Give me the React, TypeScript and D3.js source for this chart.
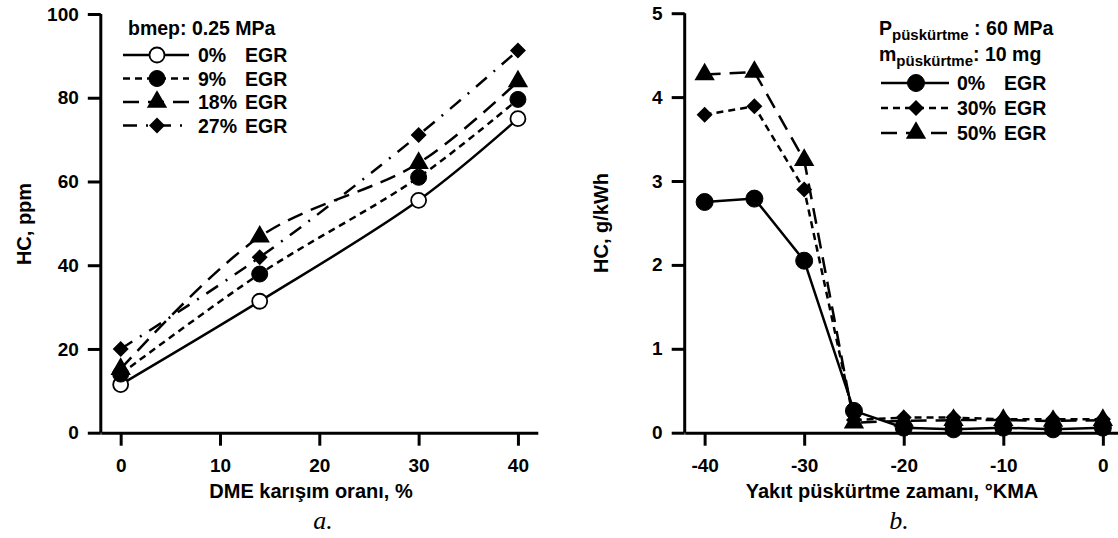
import React, { useEffect, useRef } from 'react';
import * as d3 from 'd3';

// panel a: HC vs DME blend ratio
const dmeRatio = [0, 14, 30, 40];
const hcEgr0 = [11.5, 31.4, 55.5, 75.0];
const hcEgr9 = [14.0, 37.9, 61.0, 79.6];
const hcEgr18 = [15.2, 46.8, 64.4, 83.9];
const hcEgr27 = [20.0, 41.9, 71.1, 91.3];
const ticksA_x = [0, 10, 20, 30, 40];
const ticksA_y = [0, 20, 40, 60, 80, 100];

// panel b: HC vs injection timing
const injTiming = [-40, -35, -30, -25, -20, -15, -10, -5, 0];
const hcB0 = [2.75, 2.79, 2.05, 0.26, 0.06, 0.04, 0.06, 0.04, 0.06];
const hcB30 = [3.79, 3.89, 2.9, 0.15, 0.18, 0.18, 0.16, 0.16, 0.16];
const hcB50 = [4.27, 4.3, 3.25, 0.12, 0.14, 0.15, 0.15, 0.14, 0.15];
const ticksB_x = [-40, -30, -20, -10, 0];
const ticksB_y = [0, 1, 2, 3, 4, 5];

const FONT = "'Liberation Sans', Arial, sans-serif";
const DASH = { solid: null, short: '7,5', long: '16,9', dashdot: '14,9,2,9' };

const drawMarker = (g, kind, x, y, size) => {
  if (kind === 'circle' || kind === 'open') {
    g.append('circle')
      .attr('cx', x).attr('cy', y).attr('r', size / 2)
      .attr('fill', kind === 'open' ? 'white' : 'black')
      .attr('stroke', 'black').attr('stroke-width', kind === 'open' ? 1.8 : 1);
  } else if (kind === 'triangle') {
    g.append('path')
      .attr('d', d3.symbol().type(d3.symbolTriangle).size(size * size * 0.62)())
      .attr('transform', `translate(${x},${y})`)
      .attr('fill', 'black');
  } else {
    g.append('path')
      .attr('d', d3.symbol().type(d3.symbolSquare).size(size * size * 0.5)())
      .attr('transform', `translate(${x},${y}) rotate(45)`)
      .attr('fill', 'black');
  }
};

const drawPanel = (svg, cfg) => {
  const { x, y, xTicks, yTicks, series, curve } = cfg;
  const g = svg.append('g');

  const yAxis = g.append('g')
    .attr('transform', `translate(${x.range()[0]},0)`)
    .call(d3.axisLeft(y).tickValues(yTicks).tickFormat(d => String(d))
      .tickSize(13).tickSizeOuter(0).tickPadding(9));
  const xAxis = g.append('g')
    .attr('transform', `translate(0,${y(0)})`)
    .call(d3.axisBottom(x).tickValues(xTicks).tickFormat(d => String(d))
      .tickSize(13).tickSizeOuter(0).tickPadding(13));

  [yAxis, xAxis].forEach(a => {
    a.selectAll('path, line').attr('stroke', 'black').attr('stroke-width', 3);
    a.selectAll('text')
      .attr('fill', 'black')
      .style('font-family', FONT)
      .style('font-weight', 'bold')
      .style('font-size', '19px');
  });
  yAxis.select('.domain').attr('d', `M0,${y.range()[0]}V${y.range()[1]}`);

  series.forEach(s => {
    const line = d3.line()
      .x((d, i) => x(s.xs[i]))
      .y(d => y(d))
      .curve(curve);
    g.append('path')
      .attr('d', line(s.ys))
      .attr('fill', 'none')
      .attr('stroke', 'black')
      .attr('stroke-width', 2.5)
      .attr('stroke-dasharray', DASH[s.dash]);
    s.ys.forEach((v, i) => drawMarker(g, s.marker, x(s.xs[i]), y(v), s.size));
  });
  return g;
};

const drawLegend = (svg, entries, opt) => {
  const g = svg.append('g');
  entries.forEach((e, i) => {
    const cy = opt.y0 + i * opt.dy;
    g.append('line')
      .attr('x1', opt.x1).attr('x2', opt.x2).attr('y1', cy).attr('y2', cy)
      .attr('stroke', 'black').attr('stroke-width', 2.5)
      .attr('stroke-dasharray', DASH[e.dash]);
    drawMarker(g, e.marker, opt.xm, cy, e.size);
    g.append('text').attr('x', opt.xt1).attr('y', cy + 7).text(e.pct);
    g.append('text').attr('x', opt.xt2).attr('y', cy + 7).text('EGR');
  });
  g.selectAll('text')
    .style('font-family', FONT).style('font-weight', 'bold').style('font-size', '19.5px');
};

const App = () => {
  const ref = useRef(null);

  useEffect(() => {
    const svg = d3.select(ref.current);
    svg.selectAll('*').remove();

    // ---- panel a ----
    const xA = d3.scaleLinear().domain([-2, 42]).range([100.8, 537.8]);
    const yA = d3.scaleLinear().domain([0, 100]).range([432.7, 14]);
    const seriesA = [
      { xs: dmeRatio, ys: hcEgr0, dash: 'solid', marker: 'open', size: 15, pct: '0%' },
      { xs: dmeRatio, ys: hcEgr9, dash: 'short', marker: 'circle', size: 16, pct: '9%' },
      { xs: dmeRatio, ys: hcEgr18, dash: 'long', marker: 'triangle', size: 17, pct: '18%' },
      { xs: dmeRatio, ys: hcEgr27, dash: 'dashdot', marker: 'diamond', size: 16, pct: '27%' },
    ];
    drawPanel(svg, { x: xA, y: yA, xTicks: ticksA_x, yTicks: ticksA_y, series: seriesA, curve: d3.curveCatmullRom });

    // ---- panel b ----
    const xB = d3.scaleLinear().domain([-42, 1.5]).range([684.7, 1117.8]);
    const yB = d3.scaleLinear().domain([0, 5]).range([432.7, 13.2]);
    const seriesB = [
      { xs: injTiming, ys: hcB0, dash: 'solid', marker: 'circle', size: 17, pct: '0%' },
      { xs: injTiming, ys: hcB30, dash: 'short', marker: 'diamond', size: 16, pct: '30%' },
      { xs: injTiming, ys: hcB50, dash: 'long', marker: 'triangle', size: 17, pct: '50%' },
    ];
    drawPanel(svg, { x: xB, y: yB, xTicks: ticksB_x, yTicks: ticksB_y, series: seriesB, curve: d3.curveLinear });

    // legends
    svg.append('text').attr('x', 128).attr('y', 35).text('bmep: 0.25 MPa')
      .style('font-family', FONT).style('font-weight', 'bold').style('font-size', '19.5px');
    drawLegend(svg, seriesA, { x1: 123, x2: 189, xm: 157, xt1: 198, xt2: 245, y0: 55, dy: 23.5 });

    const p = svg.append('text').attr('x', 879).attr('y', 35)
      .style('font-family', FONT).style('font-weight', 'bold').style('font-size', '19.5px');
    p.append('tspan').text('P');
    p.append('tspan').attr('dy', 5).style('font-size', '15px').text('püskürtme');
    p.append('tspan').attr('dy', -5).text(' : 60 MPa');
    const m = svg.append('text').attr('x', 879).attr('y', 61)
      .style('font-family', FONT).style('font-weight', 'bold').style('font-size', '19.5px');
    m.append('tspan').text('m');
    m.append('tspan').attr('dy', 5).style('font-size', '15px').text('püskürtme');
    m.append('tspan').attr('dy', -5).text(': 10 mg');
    drawLegend(svg, seriesB, { x1: 881, x2: 949, xm: 916, xt1: 957, xt2: 1004, y0: 83, dy: 25 });

    // axis titles
    const title = (tx, ty, txt, rot) => svg.append('text')
      .attr('transform', `translate(${tx},${ty})${rot ? ' rotate(-90)' : ''}`)
      .attr('text-anchor', 'middle')
      .style('font-family', FONT).style('font-weight', 'bold').style('font-size', '20px')
      .text(txt);
    title(31, 224, 'HC, ppm', true);
    title(608, 223, 'HC, g/kWh', true);
    title(311, 498, 'DME karışım oranı, %', false);
    title(892, 498, 'Yakıt püskürtme zamanı, °KMA', false);

    const cap = (tx, txt) => svg.append('text')
      .attr('x', tx).attr('y', 529).attr('text-anchor', 'middle')
      .style('font-family', "'Liberation Serif', 'Times New Roman', serif")
      .style('font-style', 'italic').style('font-size', '26px')
      .text(txt);
    cap(323, 'a.');
    cap(899, 'b.');
  }, []);

  return (
    <svg ref={ref} width={1118} height={538} style={{ position: 'absolute', left: 0, top: 0, background: 'white' }} />
  );
};

export default App;
